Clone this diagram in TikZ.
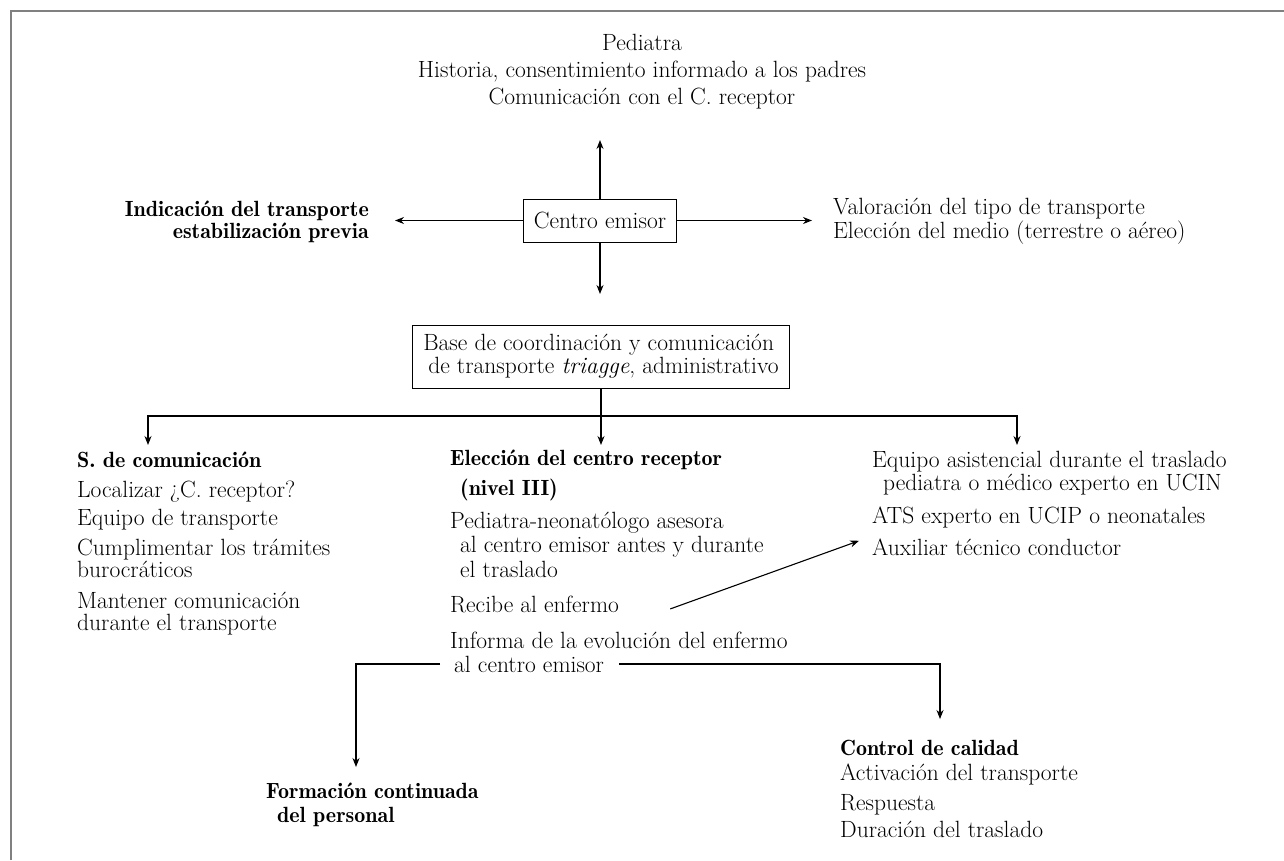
\documentclass[tikz,border=0pt]{standalone}
\usetikzlibrary{arrows.meta}
\newcommand\hdfont{\fontsize{22}{22}\fontseries{b}\selectfont}
\begin{document}
\begin{tikzpicture}[x=1pt,y=-1pt,
  every node/.style={font=\fontsize{23.5}{22}\selectfont, inner sep=0pt},
  hd/.style={font=\hdfont},
  txt/.style={align=left, anchor=base west},
  boxnode/.style={draw, line width=1pt},
  ln/.style={line width=1.1pt},
  arr/.style={line width=1.1pt, -{Stealth[length=9pt,width=7pt]}},
  frame/.style={draw=gray, line width=2pt}]
\useasboundingbox (0,0) rectangle (1284,860);
\path[frame] (11,860) -- (11,11) -- (1284,11);

% top
\node[align=center, anchor=base] (ped) at (642,104)
  {Pediatra\\[5pt]Historia, consentimiento informado a los padres\\[5pt]Comunicaci\'on con el C. receptor};

% centro emisor
\node[boxnode, minimum width=153pt, minimum height=43pt] (emi) at (600,220.5) {Centro emisor};
\coordinate (upend) at (600,140);
\coordinate (lend) at (395,220.5);
\coordinate (rend) at (812,220.5);
\coordinate (dend) at (600,294);
\draw[arr] (emi.north) -- (upend);
\draw[arr] (emi.west) -- (lend);
\draw[arr] (emi.east) -- (rend);
\draw[arr] (emi.south) -- (dend);

\node[hd, align=right, anchor=base east] (ind) at (369,238)
  {Indicaci\'on del transporte\\estabilizaci\'on previa};
\node[txt] (val) at (833,238)
  {Valoraci\'on del tipo de transporte\\Elecci\'on del medio (terrestre o a\'ereo)};

% base de coordinacion
\node[boxnode, align=left, inner xsep=11pt, minimum height=63pt,
      font=\fontsize{23.5}{23}\selectfont] (base) at (601,356.5)
  {Base de coordinaci\'on y comunicaci\'on\\\hspace*{5pt}de transporte \textit{triagge}, administrativo};

\coordinate (bus) at (601,416);
\coordinate (aL) at (148,445);
\coordinate (aM) at (601,445);
\coordinate (aR) at (1017,445);
\draw[ln] (base.south) -- (bus);
\draw[arr] (bus) -| (aL);
\draw[arr] (bus) -- (aM);
\draw[arr] (bus) -| (aR);

% left column
\node[txt] (sdc) at (77,630)
  {{\hdfont S. de comunicaci\'on}\\[8pt]
   Localizar ?`C. receptor?\\[6pt]
   Equipo de transporte\\[8pt]
   Cumplimentar los tr\'amites\\
   burocr\'aticos\\[9pt]
   Mantener comunicaci\'on\\
   durante el transporte};

% middle column
\node[txt] (ecr) at (450,495)
  {{\hdfont Elecci\'on del centro receptor}\\[8pt]
   \hspace*{10pt}{\hdfont (nivel III)}};
\node[txt] (pn) at (450,577)
  {Pediatra-neonat\'ologo asesora\\[2pt]
   \hspace*{10pt}al centro emisor antes y durante\\[3pt]
   \hspace*{10pt}el traslado};
\node[txt] (rec) at (450,612) {Recibe al enfermo};
\node[txt] (inf) at (450,648) {Informa de la evoluci\'on del enfermo};
\node[txt] (inf2) at (454,672) {al centro emisor};

% right column
\node[txt] (eq) at (872,490)
  {Equipo asistencial durante el traslado\\[1pt]
   \hspace*{11pt}pediatra o m\'edico experto en UCIN};
\node[txt] (ats) at (872,523) {ATS experto en UCIP o neonatales};
\node[txt] (aux) at (872,555) {Auxiliar t\'ecnico conductor};

\draw[arr] ([xshift=51pt,yshift=-5pt]rec.east) -- ([xshift=-13pt,yshift=6pt]aux.west);

% bottom
\coordinate (aF) at (356,767);
\coordinate (aC) at (940,719);
\draw[arr] ([xshift=-14pt]inf2.west) -| (aF);
\draw[arr] ([xshift=15pt]inf2.east) -| (aC);

\node[hd, align=left, anchor=base west] (form) at (266,822)
  {Formaci\'on continuada\\[2pt]\hspace*{11pt}del personal};
\node[txt] (cal) at (840,837)
  {{\hdfont Control de calidad}\\[3pt]
   Activaci\'on del transporte\\[8pt]
   Respuesta\\[5pt]
   Duraci\'on del traslado};
\end{tikzpicture}
\end{document}
